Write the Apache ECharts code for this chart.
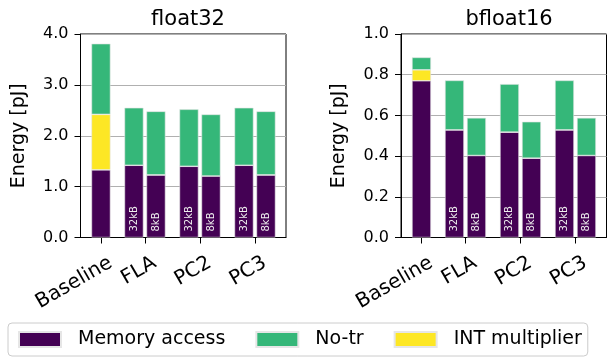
<!DOCTYPE html>
<html>
<head>
<meta charset="utf-8">
<script src="https://cdn.jsdelivr.net/npm/echarts@6/dist/echarts.min.js"></script>
<style>
html,body{margin:0;padding:0;background:#fff;}
#chart{width:609px;height:358px;}
</style>
</head>
<body>
<div id="chart"></div>
<script>
// ---- data ----
const categories = ['Baseline', 'FLA', 'PC2', 'PC3'];
const categoryPos = [0, 2, 4.5, 7];
const barPos = [0, 1.5, 2.5, 4, 5, 6.5, 7.5];
const barTags = ['', '32kB', '8kB', '32kB', '8kB', '32kB', '8kB'];
const seriesNames = ['Memory access', 'No-tr', 'INT multiplier'];

const f32Memory = [1.33, 1.42, 1.23, 1.40, 1.21, 1.42, 1.23];
const f32Int    = [1.09, 0, 0, 0, 0, 0, 0];
const f32NoTr   = [1.39, 1.13, 1.25, 1.12, 1.21, 1.13, 1.25];

const bf16Memory = [0.770, 0.529, 0.403, 0.518, 0.390, 0.529, 0.403];
const bf16Int    = [0.054, 0, 0, 0, 0, 0, 0];
const bf16NoTr   = [0.061, 0.243, 0.185, 0.236, 0.179, 0.243, 0.185];

// ---- styling ----
const FONT = 'DejaVu Sans';
const colors = {'Memory access': '#440154', 'No-tr': '#35b779', 'INT multiplier': '#fde725'};
const labelShift = 0.45;

const chart = echarts.init(document.getElementById('chart'), null, {renderer: 'canvas'});

const grids = [
  {left: 80.5, top: 34, width: 205.5, height: 203.5, show: true, borderColor: '#000', borderWidth: 1, containLabel: false},
  {left: 401, top: 34, width: 205.5, height: 203.5, show: true, borderColor: '#000', borderWidth: 1, containLabel: false}
];

function nearestCategory(v) {
  let best = 0, bd = Infinity;
  categoryPos.forEach((p, k) => { const d = Math.abs(p + labelShift - v); if (d < bd) { bd = d; best = k; } });
  return categories[best];
}

function xAxisFor(i) {
  return {
    type: 'value', gridIndex: i, min: -0.93, max: 8.41,
    axisLine: {show: true, onZero: false, lineStyle: {color: '#000', width: 1}},
    splitLine: {show: false},
    axisTick: {show: true, customValues: categoryPos, length: 6, lineStyle: {color: '#000', width: 1}},
    axisLabel: {
      show: true, customValues: categoryPos.map(p => p + labelShift),
      rotate: 30, margin: 24, hideOverlap: false,
      fontFamily: FONT, fontSize: 20, color: '#000',
      formatter: v => nearestCategory(v)
    }
  };
}
function yAxisFor(i, max, interval) {
  return {
    type: 'value', gridIndex: i, min: 0, max: max, interval: interval,
    name: 'Energy [pJ]', nameLocation: 'middle', nameGap: 52,
    nameTextStyle: {fontFamily: FONT, fontSize: 19, color: '#000'},
    axisLine: {show: true, onZero: false, lineStyle: {color: '#000', width: 1}},
    axisTick: {show: true, length: 6, lineStyle: {color: '#000', width: 1}},
    splitLine: {show: true, lineStyle: {color: '#b0b0b0', width: 1}},
    axisLabel: {fontFamily: FONT, fontSize: 16, color: '#000', margin: 12,
      formatter: v => v.toFixed(1)}
  };
}

// rows are [value, position] so that the stacked dimension is the value
function rows(values) { return values.map((y, k) => [y, barPos[k]]); }

function barSeries(name, gi, values, withTags) {
  const s = {
    name: name, type: 'bar', xAxisIndex: gi, yAxisIndex: gi,
    stack: 'g' + gi, barWidth: 19,
    dimensions: ['energy', 'pos'],
    encode: {x: 'pos', y: 'energy'},
    data: rows(values),
    itemStyle: {color: colors[name], borderColor: '#e6e6e6', borderWidth: 0.6},
    emphasis: {disabled: true},
    z: 3
  };
  if (withTags) {
    s.label = {
      show: true, position: 'insideBottom', rotate: 90, align: 'left', verticalAlign: 'middle',
      distance: 6, color: '#eeeeee', fontFamily: FONT, fontSize: 10,
      formatter: p => barTags[p.dataIndex]
    };
  }
  return s;
}

const option = {
  animation: false,
  backgroundColor: '#fff',
  title: [
    {text: 'float32', left: 183, top: 4, textAlign: 'center',
      textStyle: {fontFamily: FONT, fontSize: 21, fontWeight: 'normal', color: '#000'}},
    {text: 'bfloat16', left: 504, top: 4, textAlign: 'center',
      textStyle: {fontFamily: FONT, fontSize: 21, fontWeight: 'normal', color: '#000'}}
  ],
  legend: {
    data: seriesNames, left: 8, top: 323, orient: 'horizontal',
    itemWidth: 42, itemHeight: 15, itemGap: 30, icon: 'rect',
    padding: [7, 6, 7, 10], borderColor: '#cccccc', borderWidth: 1, borderRadius: 4,
    backgroundColor: '#fff', selectedMode: false,
    textStyle: {fontFamily: FONT, fontSize: 19, color: '#000', padding: [0, 0, 0, 12]}
  },
  grid: grids,
  xAxis: [xAxisFor(0), xAxisFor(1)],
  yAxis: [yAxisFor(0, 4, 1), yAxisFor(1, 1, 0.2)],
  series: [
    barSeries('Memory access', 0, f32Memory, true),
    barSeries('INT multiplier', 0, f32Int, false),
    barSeries('No-tr', 0, f32NoTr, false),
    barSeries('Memory access', 1, bf16Memory, true),
    barSeries('INT multiplier', 1, bf16Int, false),
    barSeries('No-tr', 1, bf16NoTr, false)
  ]
};
chart.setOption(option);
</script>
</body>
</html>
